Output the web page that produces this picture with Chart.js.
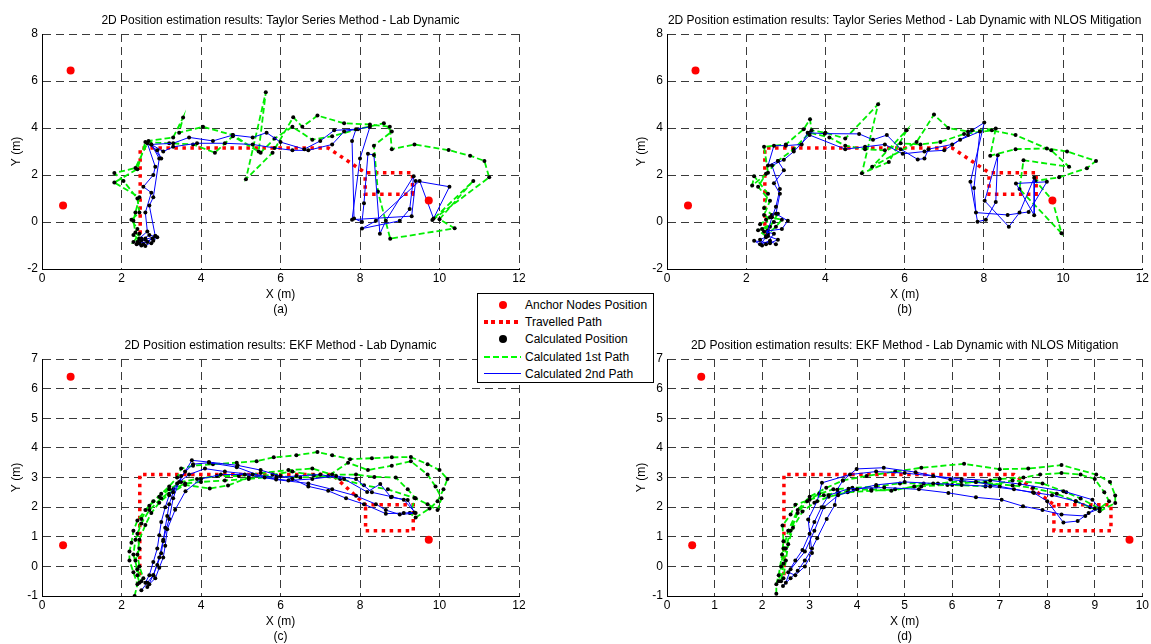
<!DOCTYPE html>
<html>
<head>
<meta charset="utf-8">
<script src="https://cdn.jsdelivr.net/npm/chart.js@4.4.1/dist/chart.umd.min.js"></script>
<style>
  html, body { margin:0; padding:0; background:#fff; }
  body { width:1151px; height:644px; position:relative; overflow:hidden; font-family:"Liberation Sans", Arial, Helvetica, sans-serif; }
  canvas { position:absolute; }
  #legend { position:absolute; left:477px; top:293px; width:175px; height:88px; border:1px solid #000; background:#fff; font-size:12px; color:#000; }
  .row { position:absolute; left:0; height:17px; width:175px; }
  .lbl { position:absolute; left:47px; top:1px; white-space:nowrap; line-height:15px; }
  .ico { position:absolute; }
</style>
</head>
<body>
<canvas id="ca" width="560" height="320" style="left:0px;top:0px"></canvas>
<canvas id="cb" width="526" height="320" style="left:625px;top:0px"></canvas>
<canvas id="cc" width="560" height="319" style="left:0px;top:325px"></canvas>
<canvas id="cd" width="526" height="319" style="left:625px;top:325px"></canvas>
<div id="legend">
  <div class="row" style="top:3px"><div class="ico" style="left:21px;top:4px;width:8px;height:8px;border-radius:50%;background:#ff0000"></div><div class="lbl">Anchor Nodes Position</div></div>
  <div class="row" style="top:20px"><div class="ico" style="left:6px;top:6px;width:37px;height:4px;background:repeating-linear-gradient(to right,#ff0000 0 4px,transparent 4px 7.5px)"></div><div class="lbl">Travelled Path</div></div>
  <div class="row" style="top:37px"><div class="ico" style="left:21px;top:4px;width:8px;height:8px;border-radius:50%;background:#000"></div><div class="lbl">Calculated Position</div></div>
  <div class="row" style="top:55px"><div class="ico" style="left:6px;top:7px;width:37px;height:2px;background:repeating-linear-gradient(to right,#00ff00 0 6px,transparent 6px 9px)"></div><div class="lbl">Calculated 1st Path</div></div>
  <div class="row" style="top:72px"><div class="ico" style="left:6px;top:7px;width:37px;height:0;border-top:1px solid #0000ff"></div><div class="lbl">Calculated 2nd Path</div></div>
</div>
<script>
// ---------------- DATA ----------------
const TITLE_A = '2D Position estimation results: Taylor Series Method - Lab Dynamic';
const TITLE_B = '2D Position estimation results: Taylor Series Method - Lab Dynamic with NLOS Mitigation';
const TITLE_C = '2D Position estimation results: EKF Method - Lab Dynamic';
const TITLE_D = '2D Position estimation results: EKF Method - Lab Dynamic with NLOS Mitigation';
const SUBLABELS = ['(a)', '(b)', '(c)', '(d)'];

const ANCHORS_TOP = [[0.72,6.45],[0.53,0.70],[9.73,0.92]];
const ANCHORS_BOTTOM = [[0.72,6.40],[0.53,0.71],[9.73,0.90]];

const TRAVEL_TOP = [[2.47,-0.5],[2.47,3.15],[7.2,3.15],[8.13,2.1],[9.32,2.1],[9.32,1.18],[8.13,1.18],[8.13,2.1]];
const TRAVEL_BOTTOM = [[2.46,-0.3],[2.46,3.1],[7.3,3.1],[8.14,2.08],[9.34,2.08],[9.34,1.2],[8.14,1.2],[8.14,2.08]];

// (a) Taylor series - Lab dynamic
const A_PATH1 = [[2.45,-0.75],[2.3,-0.55],[2.4,-0.3],[2.25,0.1],[2.45,0.4],[2.4,1.0],[2.05,1.75],[1.82,2.08],[2.35,2.3],[2.68,3.45],[3.3,3.6],[3.55,4.45],[3.45,3.8],[4.05,4.05],[4.8,3.7],[5.45,3.0],[5.63,5.52],[5.13,1.82],[5.8,2.95],[6.32,4.46],[6.55,4.05],[6.93,4.53],[7.6,4.2],[8.25,4.15],[8.75,4.05],[8.8,3.1],[9.37,3.3],[10.23,3.06],[10.77,2.82],[11.13,2.6],[11.25,1.9],[9.82,0.08],[10.85,1.75],[10.0,0.12],[10.38,-0.27],[8.76,-0.71],[8.45,1.3],[8.35,3.25],[8.8,3.85],[8.6,4.2],[7.95,3.95],[7.3,3.65],[6.8,3.5],[6.3,4.05],[5.85,3.55],[5.5,2.95],[4.8,3.65],[4.35,2.95],[3.8,3.3],[3.2,3.35],[2.6,3.4],[2.4,2.25],[1.82,1.68],[2.45,1.05],[2.35,0.4],[2.3,0.05],[2.35,-0.45],[2.5,-0.7],[2.3,-0.85],[2.45,-0.5]];
const A_PATH2 = [[2.5,-1.0],[2.4,-0.85],[2.6,-0.7],[2.75,-0.9],[2.9,-0.65],[2.7,-0.55],[2.5,-0.78],[2.38,-0.95],[2.6,-1.02],[2.8,-0.8],[2.85,-0.6],[2.55,-0.95],[2.45,-0.7],[2.65,-0.4],[2.6,0.4],[2.75,1.25],[2.55,1.5],[2.8,2.0],[2.85,2.35],[2.65,3.35],[2.9,3.05],[3.0,2.7],[2.75,3.3],[3.3,3.35],[3.7,3.6],[4.3,3.45],[4.8,3.7],[5.3,3.6],[5.65,3.8],[6.0,3.4],[6.6,3.1],[7.0,3.45],[7.35,3.9],[7.9,3.95],[7.8,3.45],[7.85,0.15],[8.05,0.0],[8.1,0.8],[8.2,2.9],[8.35,2.85],[8.5,-0.5],[8.65,0.05],[9.35,1.95],[9.25,0.55],[9.0,0.05],[8.05,-0.28],[8.4,0.05],[9.5,1.75],[9.85,0.15],[10.25,1.5],[9.4,1.75],[9.3,0.25],[7.8,0.1],[8.0,2.7],[8.25,4.05],[7.6,3.85],[7.3,3.3],[6.7,3.05],[6.3,3.05],[5.85,3.15],[5.3,3.3],[4.6,3.35],[3.9,3.35],[3.3,3.2],[3.05,3.0],[2.75,3.3],[2.95,2.7],[2.8,1.05],[2.7,0.7],[2.85,-0.6],[2.6,-0.75],[2.45,-0.9],[2.65,-0.85],[2.78,-0.7]];

// (b) Taylor series - Lab dynamic with NLOS mitigation
const B_PATH1 = [[2.5,-0.6],[2.3,-0.35],[2.6,-0.2],[2.5,0.1],[2.65,0.3],[2.45,0.6],[2.55,1.2],[2.2,1.95],[2.15,1.55],[2.55,2.1],[2.45,3.2],[3.0,3.3],[3.45,3.95],[3.61,4.37],[3.65,3.9],[4.0,3.8],[4.5,3.55],[5.33,5.01],[4.92,2.07],[5.6,2.55],[6.05,3.9],[5.18,2.35],[6.3,3.4],[6.74,4.57],[7.1,4.0],[7.6,3.85],[8.3,3.98],[8.16,2.82],[8.8,3.1],[9.59,3.13],[10.1,3.0],[10.83,2.6],[10.6,2.29],[9.9,1.9],[9.3,1.75],[9.73,0.93],[9.96,-0.48],[8.9,1.4],[9.0,2.63],[10.15,2.35],[9.7,3.05],[8.8,3.7],[8.2,3.9],[7.5,3.75],[6.9,3.4],[6.4,3.3],[5.9,3.35],[5.5,3.05],[5.0,3.1],[4.5,3.25],[4.1,3.6],[3.6,3.8],[3.2,3.1],[2.8,2.6],[2.5,2.05],[2.3,1.5],[2.6,0.9],[2.45,0.3],[2.7,0.0],[2.4,-0.3],[2.55,-0.5],[2.75,-0.2],[2.9,0.1],[2.6,0.2],[2.35,-0.1],[2.55,-0.35],[2.8,0.35]];
const B_PATH2 = [[2.4,-1.0],[2.2,-0.8],[2.6,-0.9],[2.8,-0.75],[2.55,-0.6],[2.35,-0.75],[2.5,-0.95],[2.7,-0.5],[2.45,-0.4],[2.9,-0.3],[3.05,0.05],[2.75,0.35],[2.85,1.2],[2.7,1.65],[2.95,2.2],[2.8,2.6],[2.55,2.4],[2.7,3.25],[3.0,3.25],[3.4,3.3],[3.55,3.8],[3.98,3.76],[4.85,3.75],[5.2,3.5],[5.55,3.7],[5.9,3.1],[6.33,2.66],[6.5,2.7],[6.6,3.1],[7.2,3.3],[7.6,3.7],[7.7,3.9],[8.01,4.23],[7.66,1.71],[7.84,0.01],[8.05,0.1],[8.3,0.85],[8.35,2.84],[8.02,0.9],[8.63,-0.2],[8.9,0.4],[9.27,1.88],[9.27,0.29],[8.81,1.64],[9.59,1.71],[9.13,0.43],[8.6,0.3],[7.8,0.4],[7.75,1.45],[7.9,3.85],[7.4,3.5],[7.0,3.05],[6.5,3.0],[5.95,2.9],[5.5,3.3],[5.0,3.2],[4.5,3.1],[3.6,3.7],[3.2,3.0],[2.95,2.65],[2.65,2.4],[2.85,1.4],[2.75,0.65],[2.65,0.2],[2.5,-0.65],[2.35,-0.95],[2.6,-0.8],[2.75,-0.95]];

// (c) EKF - Lab dynamic
const C_PATH1 = [[2.33,-1.0],[2.4,-0.6],[2.3,-0.2],[2.2,0.2],[2.2,0.5],[2.25,0.8],[2.3,1.2],[2.4,1.55],[2.6,1.9],[2.8,2.2],[3.0,2.45],[3.2,2.7],[3.4,3.0],[3.5,3.3],[3.8,3.4],[4.3,3.45],[4.9,3.5],[5.4,3.55],[5.83,3.68],[6.4,3.75],[6.93,3.86],[7.3,3.75],[7.75,3.62],[8.3,3.65],[8.8,3.68],[9.28,3.69],[9.7,3.45],[10.0,3.25],[10.2,2.95],[10.1,2.6],[9.95,2.2],[9.75,1.95],[9.4,1.65],[9.25,1.8],[9.4,2.3],[9.2,2.6],[8.9,3.0],[8.36,3.02],[7.9,3.1],[7.3,3.1],[6.8,3.3],[6.2,3.25],[5.5,3.15],[4.95,3.05],[4.4,3.05],[3.9,2.95],[3.5,2.85],[3.2,2.6],[2.95,2.35],[2.7,2.05],[2.5,1.6],[2.4,1.1],[2.45,0.6],[2.35,0.2],[2.4,-0.3],[2.45,-0.55],[2.55,-0.4],[2.45,0.0],[2.4,0.4],[2.45,0.9],[2.6,1.4],[2.75,1.8],[2.95,2.15],[3.2,2.45],[3.6,2.75],[4.22,2.63],[4.68,2.73],[5.2,3.0],[5.8,3.1],[6.3,3.2],[6.84,3.08],[7.5,2.95],[8.1,2.74],[8.7,2.6],[9.37,2.31],[9.7,2.1],[9.95,1.9],[10.05,2.3],[9.9,2.7],[9.7,3.1],[9.28,3.55],[8.8,3.4],[8.2,3.25],[7.7,3.5],[7.2,3.05],[6.5,3.0],[5.9,3.05],[5.2,2.95],[4.6,2.9],[4.0,2.85],[3.6,2.8],[3.3,2.6],[3.0,2.3],[2.7,1.9],[2.5,1.45],[2.35,0.9],[2.3,0.4],[2.4,-0.1],[2.5,-0.5]];
const C_PATH2 = [[2.5,-0.81],[2.65,-0.55],[2.8,-0.3],[2.9,0.05],[3.0,0.44],[3.05,0.85],[3.1,1.3],[3.15,1.7],[3.2,2.1],[3.3,2.5],[3.45,2.85],[3.6,3.2],[3.77,3.58],[4.2,3.52],[4.92,3.41],[5.5,3.25],[6.0,3.05],[6.3,2.95],[6.7,2.7],[7.2,2.55],[7.65,2.3],[8.1,2.1],[8.65,1.78],[9.1,1.8],[9.37,1.82],[9.2,2.24],[8.78,2.33],[8.51,2.78],[8.18,2.51],[7.6,2.95],[7.0,3.1],[6.4,3.05],[5.9,3.0],[5.3,3.1],[4.6,3.2],[4.1,3.3],[3.7,3.1],[3.4,2.8],[3.2,2.4],[3.1,2.0],[3.0,1.5],[2.95,1.05],[2.9,0.6],[2.8,0.15],[2.7,-0.3],[2.6,-0.55],[2.7,-0.6],[2.85,-0.4],[2.95,-0.05],[3.05,0.3],[3.1,0.7],[3.15,1.25],[3.35,1.91],[3.61,2.54],[4.0,2.95],[4.5,3.1],[5.1,3.1],[5.89,2.93],[6.7,2.8],[7.3,2.6],[7.9,2.38],[8.4,2.1],[8.65,1.9],[9.0,1.75],[9.4,1.8],[9.1,2.25],[8.8,2.35],[8.3,2.5],[7.9,2.95],[7.4,3.05],[6.8,2.95],[6.2,2.9],[5.6,3.0],[4.9,3.35],[4.2,3.5],[3.8,3.45],[3.5,3.05],[3.3,2.3],[3.2,1.6],[3.05,0.9],[2.95,0.3],[2.8,-0.3],[2.65,-0.7]];

// (d) EKF - Lab dynamic with NLOS mitigation
const D_PATH1 = [[2.3,-0.92],[2.3,-0.6],[2.35,-0.3],[2.42,0.4],[2.45,0.85],[2.43,1.38],[2.6,1.75],[2.7,2.08],[3.0,2.25],[3.3,2.4],[3.6,2.5],[3.93,2.59],[4.3,2.6],[4.72,2.55],[5.2,2.7],[5.7,2.8],[6.19,2.87],[6.7,2.82],[7.27,2.73],[7.7,2.65],[8.2,2.45],[8.6,2.2],[8.9,2.0],[9.1,1.86],[9.43,2.14],[9.43,2.39],[9.32,2.85],[9.03,3.1],[8.3,3.42],[7.6,3.3],[7.0,3.28],[6.25,3.46],[5.35,3.33],[4.8,3.2],[4.2,3.05],[3.7,2.9],[3.35,2.65],[3.0,2.35],[2.75,1.9],[2.55,1.2],[2.45,0.6],[2.4,0.0],[2.35,-0.5],[2.45,-0.4],[2.5,0.2],[2.55,0.75],[2.65,1.3],[2.85,1.85],[3.1,2.15],[3.4,2.35],[3.8,2.5],[4.3,2.55],[4.8,2.6],[5.35,2.7],[5.9,2.75],[6.5,2.85],[7.0,2.95],[7.5,3.0],[7.85,3.1],[8.3,3.15],[8.7,3.1],[9.0,2.95],[9.2,2.5],[9.3,2.2],[9.1,1.95],[8.7,2.29],[8.4,2.5],[7.9,2.8],[7.27,2.9],[6.7,2.7],[6.0,2.75],[5.4,2.8],[4.9,2.8],[4.4,2.7],[3.9,2.65],[3.5,2.6],[3.2,2.45],[2.95,2.2],[2.75,1.8],[2.6,1.2],[2.5,0.6],[2.45,0.1],[2.4,-0.5]];
const D_PATH2 = [[2.44,-0.66],[2.6,-0.4],[2.75,-0.15],[2.9,0.2],[3.05,0.6],[3.16,0.95],[3.36,1.6],[3.53,2.07],[3.58,2.59],[3.7,2.9],[3.99,3.29],[4.56,3.33],[5.23,3.18],[5.96,2.93],[6.5,2.85],[7.0,2.7],[7.72,2.48],[8.0,2.2],[8.34,1.48],[8.64,1.53],[8.87,1.8],[9.1,1.95],[8.95,2.25],[8.34,2.54],[7.42,2.78],[6.8,2.9],[6.2,2.95],[5.6,3.05],[5.0,3.15],[4.4,3.2],[3.85,3.1],[3.26,2.82],[3.16,2.2],[2.97,1.58],[3.05,0.45],[2.9,0.0],[2.7,-0.3],[2.55,-0.2],[2.7,0.2],[2.85,0.55],[3.0,1.1],[3.1,1.5],[3.25,2.0],[3.4,2.4],[3.82,2.62],[4.57,2.66],[5.3,2.6],[5.92,2.48],[6.5,2.33],[7.04,2.25],[7.49,2.03],[7.9,1.9],[8.3,1.75],[8.8,1.7],[9.0,1.95],[8.6,2.2],[8.1,2.4],[7.7,2.5],[7.3,2.6],[6.8,2.7],[6.2,2.75],[5.6,2.8],[5.0,2.85],[4.4,2.75],[4.0,2.6],[3.6,2.4],[3.3,2.0],[3.1,1.2],[2.9,0.5],[2.6,-0.1],[2.5,-0.55]];

// ---------------- CHARTS ----------------
Chart.defaults.font.family = '"Liberation Sans", Arial, Helvetica, sans-serif';
Chart.defaults.font.size = 12;
Chart.defaults.color = '#000';

function pts(arr) { return arr.map(p => ({x: p[0], y: p[1]})); }

function makeChart(id, o) {
  const gridOpts = { color: '#3a3a3a', lineWidth: 1, drawTicks: false };
  const borderOpts = { display: true, color: '#000', width: 1, dash: [8, 5] };
  new Chart(document.getElementById(id), {
    type: 'scatter',
    data: {
      datasets: [
        { label: 'Anchor Nodes Position', data: pts(o.anchors), showLine: false, pointRadius: 4, pointBackgroundColor: '#ff0000', pointBorderWidth: 0, order: 0 },
        { label: 'Calculated 2nd Path', data: pts(o.path2), showLine: true, borderColor: '#0000ff', borderWidth: 1, pointRadius: 2, pointBackgroundColor: '#000', pointBorderWidth: 0, tension: 0, order: 1 },
        { label: 'Calculated 1st Path', data: pts(o.path1), showLine: true, borderColor: '#00ee00', borderWidth: 1.8, borderDash: [6, 3], pointRadius: 2, pointBackgroundColor: '#000', pointBorderWidth: 0, tension: 0, order: 2 },
        { label: 'Travelled Path', data: pts(o.travel), showLine: true, borderColor: '#ff0000', borderWidth: 3.5, borderDash: [3.5, 4.5], borderCapStyle: 'butt', pointRadius: 0, tension: 0, order: 3 }
      ]
    },
    options: {
      responsive: false,
      animation: false,
      events: [],
      layout: { padding: { left: 0, right: o.padRight, top: 0, bottom: 0 } },
      plugins: {
        legend: { display: false },
        tooltip: { enabled: false },
        title: { display: true, text: o.title, fullSize: false, font: { size: 12, weight: 'normal' }, color: '#000', padding: { top: 13, bottom: 6.6 } }
      },
      scales: {
        x: {
          type: 'linear', min: 0, max: o.xMax,
          ticks: { stepSize: o.xStep, padding: 2, maxRotation: 0, autoSkip: false, color: '#000' },
          grid: gridOpts, border: borderOpts,
          title: { display: true, text: ['X (m)', o.sub], font: { size: 12, lineHeight: 1.25 }, color: '#000', padding: { top: 0, bottom: o.xTitlePadBottom } },
          afterFit: s => { s.height = o.xHeight; }
        },
        y: {
          type: 'linear', min: o.yMin, max: o.yMax,
          ticks: { stepSize: o.yStep, padding: 4, autoSkip: false, color: '#000' },
          grid: gridOpts, border: borderOpts,
          title: { display: true, text: 'Y (m)', font: { size: 12 }, color: '#000', padding: { top: 9, bottom: 0 } },
          afterFit: s => { s.width = 42; }
        }
      }
    }
  });
}

makeChart('ca', { title: TITLE_A, sub: SUBLABELS[0], anchors: ANCHORS_TOP, travel: TRAVEL_TOP, path1: A_PATH1, path2: A_PATH2, xMax: 12, xStep: 2, yMin: -2, yMax: 8, yStep: 2, padRight: 41, xHeight: 51, xTitlePadBottom: 2.5 });
makeChart('cb', { title: TITLE_B, sub: SUBLABELS[1], anchors: ANCHORS_TOP, travel: TRAVEL_TOP, path1: B_PATH1, path2: B_PATH2, xMax: 12, xStep: 2, yMin: -2, yMax: 8, yStep: 2, padRight: 8, xHeight: 51, xTitlePadBottom: 2.5 });
makeChart('cc', { title: TITLE_C, sub: SUBLABELS[2], anchors: ANCHORS_BOTTOM, travel: TRAVEL_BOTTOM, path1: C_PATH1, path2: C_PATH2, xMax: 12, xStep: 2, yMin: -1, yMax: 7, yStep: 1, padRight: 41, xHeight: 48, xTitlePadBottom: 0 });
makeChart('cd', { title: TITLE_D, sub: SUBLABELS[3], anchors: ANCHORS_BOTTOM, travel: TRAVEL_BOTTOM, path1: D_PATH1, path2: D_PATH2, xMax: 10, xStep: 1, yMin: -1, yMax: 7, yStep: 1, padRight: 8, xHeight: 48, xTitlePadBottom: 0 });
</script>
</body>
</html>
